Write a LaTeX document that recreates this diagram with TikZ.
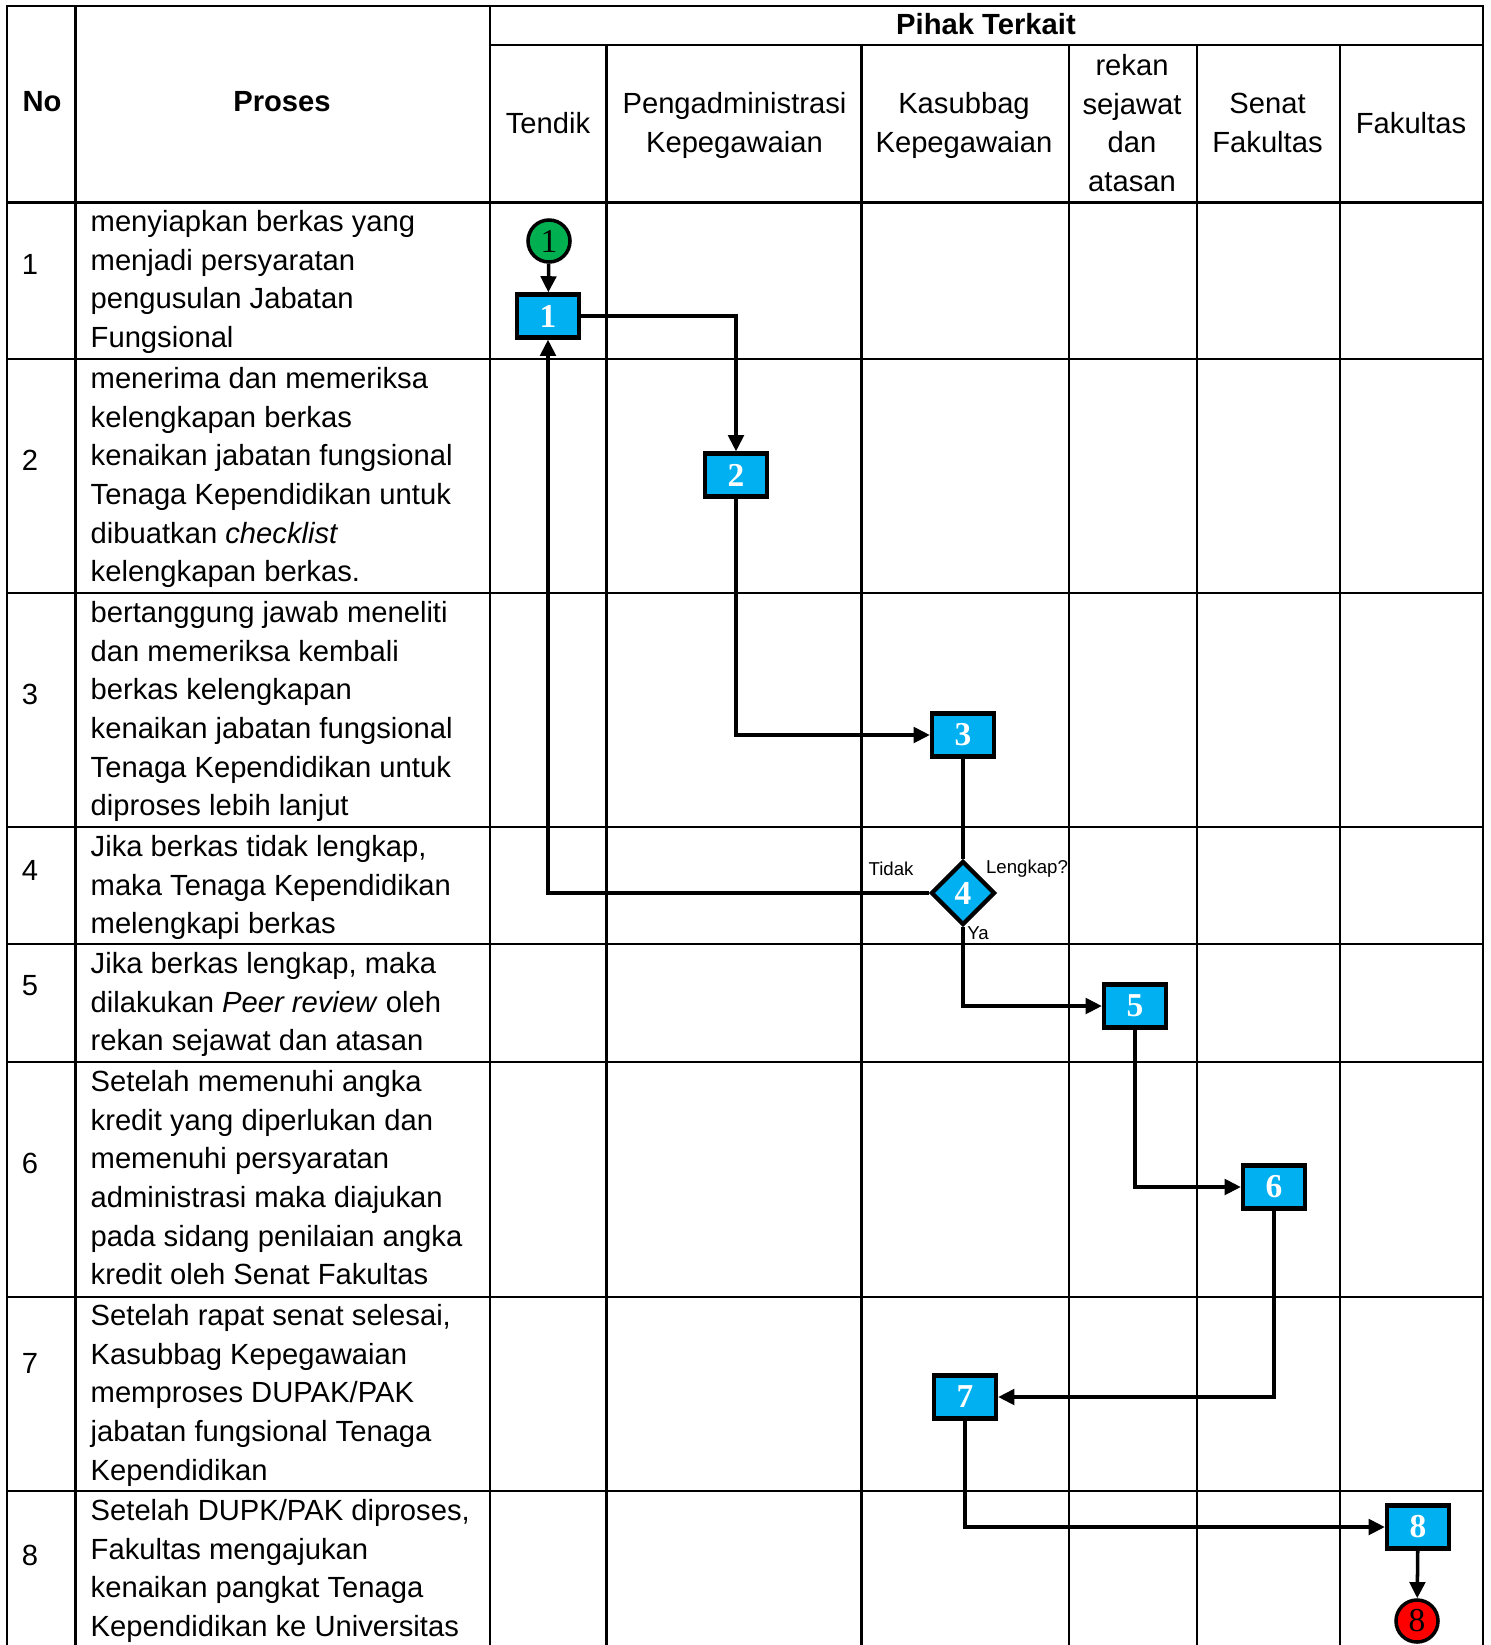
\documentclass[tikz,border=0pt]{standalone}
\usepackage{fontspec}
\setmainfont{Liberation Sans}
\newfontfamily\numfont{Liberation Serif}
\usetikzlibrary{arrows.meta,shapes.geometric}
\definecolor{boxblue}{RGB}{0,176,240}
\definecolor{startgreen}{RGB}{0,176,80}
\definecolor{endred}{RGB}{255,0,0}

\begin{document}
\begin{tikzpicture}[
    x=0.01cm, y=-0.01cm,
    grid/.style={line width=0.75pt},
    txt/.style={font=\fontsize{8.3}{11}\selectfont, inner sep=0pt},
    header/.style={txt, align=center},
    bhead/.style={txt, font=\fontsize{8.3}{11}\selectfont\bfseries},
    proses/.style={txt, align=left, anchor=north west},
    task/.style={draw, line width=1.2pt, fill=boxblue, minimum width=0.62cm,
                 minimum height=0.43cm, inner sep=0pt, text=white,
                 font=\fontsize{9.5}{9.5}\numfont\bfseries},
    decision/.style={task, diamond, minimum width=0.64cm, minimum height=0.64cm},
    terminal/.style={draw, circle, line width=1pt, minimum size=0.42cm,
                     inner sep=0pt, font=\fontsize{9.5}{9.5}\numfont},
    flow/.style={line width=1pt, -{Triangle[length=4.6pt,width=4.4pt]}},
    link/.style={line width=1pt},
    note/.style={font=\fontsize{5.3}{6}\selectfont, inner sep=0pt}
  ]
  \useasboundingbox (0,0) rectangle (1491,1645);

  % Table frame and rules
  \draw[grid] (7,1645) -- (7,6) -- (1483,6) -- (1483,1645);
  \foreach \xx in {75.5,490} { \draw[grid] (\xx,6) -- (\xx,1645); }
  \foreach \xx in {606.5,861.5,1069,1197,1340} { \draw[grid] (\xx,45) -- (\xx,1645); }
  \draw[grid] (490,45) -- (1483,45);
  \foreach \yy in {202.5,359,593,827,944,1062,1297,1491} { \draw[grid] (7,\yy) -- (1483,\yy); }

  % Column headers
  \node[bhead] (hNo) at (42,102) {No};
  \node[bhead] (hProses) at (282,102) {Proses};
  \node[bhead] (hPihak) at (986,24) {Pihak Terkait};
  \node[header] (hTendik) at (548,123) {Tendik};
  \node[header] (hAdmin) at (734.5,125.5) {Pengadministrasi\\Kepegawaian};
  \node[header] (hKasub) at (964,125.5) {Kasubbag\\Kepegawaian};
  \node[header] (hRekan) at (1132,123) {rekan\\sejawat\\dan\\atasan};
  \node[header] (hSenat) at (1267.5,123) {Senat\\Fakultas};
  \node[header] (hFak) at (1411,123) {Fakultas};

  % Row numbers
  \foreach \i/\yy in {1/264, 2/460, 3/694, 4/870, 5/986, 6/1163, 7/1363, 8/1555} {
    \node[txt] (no\i) at (30,\yy) {\i};
  }

  % Process descriptions
  \node[proses] (p1) at (90,209.6) {menyiapkan berkas yang\\menjadi persyaratan\\pengusulan Jabatan\\Fungsional};
  \node[proses] (p2) at (90,366.6) {menerima dan memeriksa\\kelengkapan berkas\\kenaikan jabatan fungsional\\Tenaga Kependidikan untuk\\dibuatkan \textit{checklist}\\kelengkapan berkas.};
  \node[proses] (p3) at (90,600.6) {bertanggung jawab meneliti\\dan memeriksa kembali\\berkas kelengkapan\\kenaikan jabatan fungsional\\Tenaga Kependidikan untuk\\diproses lebih lanjut};
  \node[proses] (p4) at (90,834.6) {Jika berkas tidak lengkap,\\maka Tenaga Kependidikan\\melengkapi berkas};
  \node[proses] (p5) at (90,951.6) {Jika berkas lengkap, maka\\dilakukan \textit{Peer review} oleh\\rekan sejawat dan atasan};
  \node[proses] (p6) at (90,1069.6) {Setelah memenuhi angka\\kredit yang diperlukan dan\\memenuhi persyaratan\\administrasi maka diajukan\\pada sidang penilaian angka\\kredit oleh Senat Fakultas};
  \node[proses] (p7) at (90,1303.6) {Setelah rapat senat selesai,\\Kasubbag Kepegawaian\\memproses DUPAK/PAK\\jabatan fungsional Tenaga\\Kependidikan};
  \node[proses] (p8) at (90,1498.6) {Setelah DUPK/PAK diproses,\\Fakultas mengajukan\\kenaikan pangkat Tenaga\\Kependidikan ke Universitas};

  % Flow symbols
  \node[terminal, fill=startgreen] (start) at (549,241) {1};
  \node[task] (t1) at (548,316) {1};
  \node[task] (t2) at (736,475) {2};
  \node[task] (t3) at (963,735) {3};
  \node[decision] (t4) at (963,893) {4};
  \node[task] (t5) at (1135,1006) {5};
  \node[task] (t6) at (1274,1187) {6};
  \node[task] (t7) at (965,1397) {7};
  \node[task] (t8) at (1418,1527) {8};
  \node[terminal, fill=endred] (stop) at (1417,1621) {8};

  % Decision labels
  \node[note] (lTidak) at (891,869) {Tidak};
  \node[note] (lLengkap) at (1027,869) {Lengkap?};
  \node[note] (lYa) at (978,933) {Ya};

  % Connectors
  \draw[flow] (start) -- (t1);
  \draw[flow] (t1.east) -| (t2.north);
  \draw[flow] (t2.south) |- (t3.west);
  \draw[link] (t3.south) -- (t4.north);
  \draw[flow] (t4.west) -| (t1.south);
  \draw[flow] (t4.south) |- (t5.west);
  \draw[flow] (t5.south) |- (t6.west);
  \draw[flow] (t6.south) |- (t7.east);
  \draw[flow] (t7.south) |- (t8.west);
  \draw[flow] (t8) -- (stop);

\end{tikzpicture}
\end{document}
